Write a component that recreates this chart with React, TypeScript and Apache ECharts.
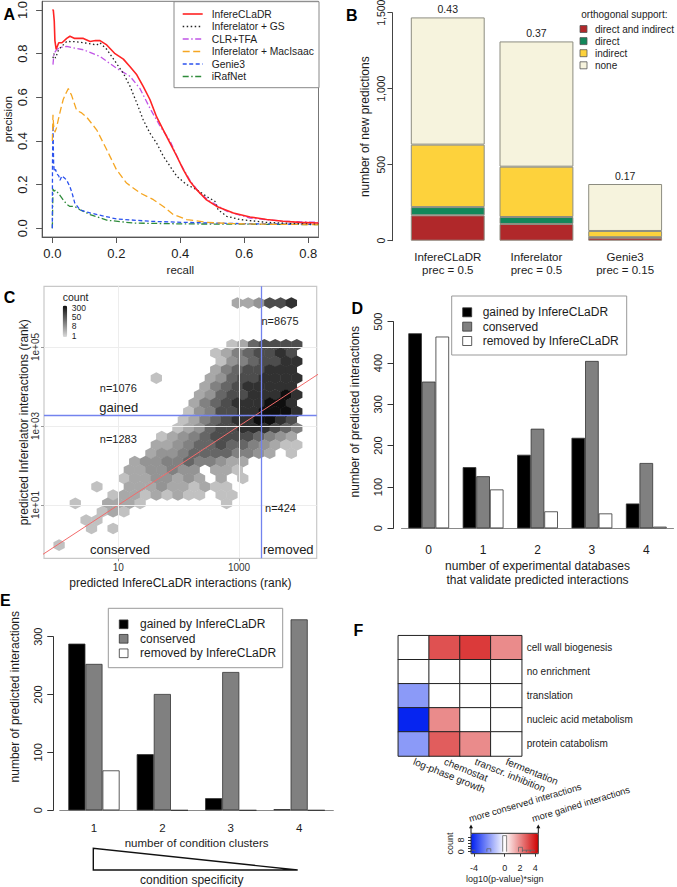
import React, { useEffect, useRef } from "react";
import * as echarts from "echarts";

const FONT = '"Liberation Sans", Arial, Helvetica, sans-serif';
const INK = "#1c1c1c";

// ================= Panel A: precision / recall =================
const A_RECALL_TICKS = [0, 0.2, 0.4, 0.6, 0.8];
const A_PRECISION_TICKS = [0, 0.2, 0.4, 0.6, 0.8, 1.0];
const A_METHODS = ["InfereCLaDR", "Inferelator + GS", "CLR+TFA", "Inferelator + MacIsaac", "Genie3", "iRafNet"];

const A_INFERECLADR_RECALL = [0, 0.003, 0.006, 0.008, 0.012, 0.02, 0.03, 0.045, 0.055, 0.07, 0.097, 0.118, 0.135, 0.149, 0.17, 0.196, 0.222, 0.243, 0.264, 0.284, 0.305, 0.326, 0.347, 0.368, 0.389, 0.409, 0.43, 0.451, 0.482, 0.514, 0.566, 0.618, 0.67, 0.722, 0.774, 0.832];
const A_INFERECLADR_PRECISION = [1.0, 1.0, 0.95, 0.86, 0.82, 0.85, 0.85, 0.87, 0.88, 0.87, 0.87, 0.856, 0.86, 0.86, 0.84, 0.8, 0.775, 0.74, 0.703, 0.65, 0.59, 0.51, 0.45, 0.39, 0.33, 0.27, 0.215, 0.177, 0.13, 0.1, 0.07, 0.052, 0.04, 0.032, 0.027, 0.024];

const A_GS_RECALL = [0.002, 0.005, 0.01, 0.02, 0.045, 0.07, 0.097, 0.12, 0.139, 0.149, 0.17, 0.196, 0.222, 0.243, 0.264, 0.284, 0.305, 0.326, 0.347, 0.368, 0.389, 0.42, 0.451, 0.482, 0.508, 0.518, 0.545, 0.586, 0.67, 0.75, 0.832];
const A_GS_PRECISION = [0.78, 0.8, 0.78, 0.82, 0.856, 0.855, 0.85, 0.845, 0.84, 0.85, 0.82, 0.765, 0.71, 0.65, 0.574, 0.497, 0.436, 0.39, 0.33, 0.284, 0.238, 0.2, 0.177, 0.146, 0.124, 0.085, 0.055, 0.04, 0.027, 0.022, 0.02];

const A_CLR_RECALL = [0.002, 0.005, 0.014, 0.03, 0.045, 0.07, 0.097, 0.149, 0.2, 0.243, 0.274, 0.305, 0.336, 0.368, 0.399, 0.43, 0.461, 0.493, 0.545, 0.618, 0.722, 0.832];
const A_CLR_PRECISION = [0.75, 0.8, 0.82, 0.83, 0.833, 0.825, 0.818, 0.787, 0.734, 0.696, 0.64, 0.55, 0.47, 0.4, 0.3, 0.22, 0.16, 0.124, 0.078, 0.047, 0.032, 0.027];

const A_MACISAAC_RECALL = [0, 0.002, 0.004, 0.008, 0.013, 0.019, 0.027, 0.034, 0.043, 0.05, 0.06, 0.076, 0.09, 0.107, 0.139, 0.17, 0.2, 0.232, 0.274, 0.316, 0.347, 0.378, 0.42, 0.482, 0.566, 0.7, 0.832];
const A_MACISAAC_PRECISION = [0.4, 0.52, 0.47, 0.44, 0.46, 0.5, 0.55, 0.59, 0.62, 0.64, 0.61, 0.54, 0.53, 0.51, 0.45, 0.36, 0.27, 0.207, 0.162, 0.131, 0.1, 0.063, 0.04, 0.027, 0.021, 0.018, 0.017];

const A_GENIE3_RECALL = [0, 0.0005, 0.002, 0.004, 0.006, 0.01, 0.014, 0.02, 0.024, 0.03, 0.038, 0.045, 0.055, 0.062, 0.07, 0.086, 0.118, 0.2, 0.305, 0.41, 0.6, 0.832];
const A_GENIE3_PRECISION = [0, 0.3, 0.47, 0.3, 0.26, 0.27, 0.25, 0.24, 0.22, 0.24, 0.23, 0.22, 0.19, 0.16, 0.116, 0.085, 0.07, 0.043, 0.032, 0.027, 0.021, 0.018];

const A_IRAFNET_RECALL = [0, 0.002, 0.005, 0.01, 0.019, 0.034, 0.045, 0.055, 0.07, 0.086, 0.118, 0.17, 0.253, 0.41, 0.832];
const A_IRAFNET_PRECISION = [0, 0.18, 0.17, 0.175, 0.16, 0.13, 0.11, 0.1, 0.1, 0.085, 0.063, 0.037, 0.024, 0.02, 0.017];

const A_CURVES = [
  [A_INFERECLADR_RECALL, A_INFERECLADR_PRECISION],
  [A_GS_RECALL, A_GS_PRECISION],
  [A_CLR_RECALL, A_CLR_PRECISION],
  [A_MACISAAC_RECALL, A_MACISAAC_PRECISION],
  [A_GENIE3_RECALL, A_GENIE3_PRECISION],
  [A_IRAFNET_RECALL, A_IRAFNET_PRECISION],
];
const A_COLORS = ["#ff2424", "#222222", "#c054e6", "#f5a623", "#2b52ee", "#2e8b3a"];
const A_DASHES: any[] = ["solid", [1.5, 2.5], [6, 2.5, 1.5, 2.5], [7, 3.5], [4, 2.5], [6, 2.5, 1.5, 2.5]];
const A_WIDTHS = [1.6, 1.3, 1.3, 1.3, 1.3, 1.3];

// ================= Panel B: stacked bars =================
const B_METHODS = ["InfereCLaDR\nprec = 0.5", "Inferelator\nprec = 0.5", "Genie3\nprec = 0.15"];
const B_SUPPORT = ["direct and indirect", "direct", "indirect", "none"];
const B_DIRECT_AND_INDIRECT = [167, 110, 20];
const B_DIRECT = [54, 46, 3];
const B_INDIRECT = [411, 331, 41];
const B_NONE = [837, 824, 309];
const B_SUPPORTED_FRACTION = ["0.43", "0.37", "0.17"];
const B_TICKS_INTERVAL = 500;
const B_COLORS = ["#b0282a", "#12875a", "#fdd23c", "#f6f3dd"];

// ================= Panel C: hexbin (log10 ranks) =================
const C_X_TICKS = [1, 3];
const C_X_TICK_LABELS = ["10", "1000"];
const C_Y_TICKS = [1, 3, 5];
const C_Y_TICK_LABELS = ["1e+01", "1e+03", "1e+05"];
const C_RANK_CUTOFF_X = 3.365;
const C_RANK_CUTOFF_Y = 3.28;
const C_IDENTITY_LINE = [[-1, -1], [5, 5]];
// hex lattice (log10 units)
const HEX_X0 = -0.16;
const HEX_DX = 0.179;
const HEX_Y0 = 5.058;
const HEX_DY = 0.2114;
const HEX_FIRST_ROW = -5;
// count level per hex cell (0 = empty)
const HEX_LEVEL_COUNTS = [0, 1, 2, 4, 7, 12, 25, 50, 110, 280];
const HEX_ROWS = [
  "000000000000000000334778",
  "000000000000000000000000",
  "000000000000000000000000",
  "000000000000000000000000",
  "000000000000000000000000",
  "000000000000000002367777",
  "000000000000000023567787",
  "000000000000000024567788",
  "000000000000000035677888",
  "000000000020000346778888",
  "000000000000000356788888",
  "000000000000003467788898",
  "000000000000003567888998",
  "000000000000024577889998",
  "000000000000023567889987",
  "000000000000234677888765",
  "000000000002345677776543",
  "000000000033456676654322",
  "000000000034456666554302",
  "000000003445565543300000",
  "000000003344544033200000",
  "000000023344343030200000",
  "000002003334332322000000",
  "000000233232322022000000",
  "000200333200000002000000",
  "000002320000000000000000",
  "000022000000000000000000",
  "000020200000000000000000",
  "000000000000000000000000",
  "020000000000000000000000",
];
const C_COUNT_LEGEND = ["300", "50", "8", "1"];

// ================= Panel D =================
const D_CATEGORIES = ["0", "1", "2", "3", "4"];
const D_GAINED = [472, 148, 178, 219, 60];
const D_CONSERVED = [355, 126, 241, 405, 158];
const D_REMOVED = [464, 94, 41, 36, 4];

// ================= Panel E =================
const E_CATEGORIES = ["1", "2", "3", "4"];
const E_GAINED = [288, 97, 21, 2];
const E_CONSERVED = [253, 201, 239, 330];
const E_REMOVED = [69, 0, 0, 0];

const DE_NAMES = ["gained by InfereCLaDR", "conserved", "removed by InfereCLaDR"];
const DE_COLORS = ["#000000", "#808080", "#ffffff"];

// ================= Panel F: heatmap =================
const F_CONDITIONS = ["log-phase growth", "chemostat", "transcr. inhibition", "fermentation"];
const F_CATEGORIES = ["cell wall biogenesis", "no enrichment", "translation", "nucleic acid metabolism", "protein catabolism"];
const F_VALUES = [
  [0, 3.0, 3.4, 2.0],
  [0, 0, 0, 0],
  [-2.0, 0, 0, 0],
  [-4.3, 2.0, 0, 0],
  [-2.0, 2.8, 2.0, 0],
];
const F_KEY_TICKS = [-4, 0, 2, 4];
const F_KEY_COUNT_TICKS = [0, 8];
const F_KEY_MIN = -4.4;
const F_KEY_MAX = 4.4;
const F_HIST_BINS = 17;

function txt(text: string, x: number, y: number, size: number, o: any = {}) {
  const align = o.align || "left";
  const valign = o.valign || "middle";
  return {
    type: "text",
    x,
    y,
    rotation: o.rotation || 0,
    silent: true,
    z: 100,
    style: {
      text,
      fill: o.color || INK,
      fontSize: size,
      fontFamily: FONT,
      fontWeight: o.weight || "normal",
      align,
      verticalAlign: valign,
      textAlign: align,
      textVerticalAlign: valign,
    },
  };
}

function buildOption() {
  const baseName = (size: number) => ({ fontSize: size, color: INK, fontFamily: FONT });

  const grids = [
    { left: 42.1, top: 1.3, width: 276.4, height: 235.7, show: true, borderColor: "#777", borderWidth: 1 },
    { left: 403.4, top: 12.7, width: 266.1, height: 228 },
    { left: 44, top: 286.3, width: 272.7, height: 272, show: true, borderColor: "#c8c8c8", borderWidth: 1.2 },
    { left: 401.5, top: 321.7, width: 272, height: 206.6 },
    { left: 59.75, top: 636.7, width: 273.6, height: 173.6 },
    { left: 398.3, top: 635.7, width: 123.4, height: 120.3 },
    { left: 471, top: 833.3, width: 67.3, height: 20.4 },
  ].map((g) => ({ ...g, containLabel: false, outerBoundsMode: "none" }));

  const noLine = { show: false };
  const xAxis: any[] = [
    {
      gridIndex: 0, type: "value", min: -0.032, max: 0.832,
      axisLine: { show: true, onZero: false, lineStyle: { color: "#555" } },
      axisTick: { show: true, length: 6, customValues: A_RECALL_TICKS, lineStyle: { color: "#555" } },
      axisLabel: { customValues: A_RECALL_TICKS, formatter: (v: number) => v.toFixed(1), fontSize: 13, margin: 10, color: INK, fontFamily: FONT },
      splitLine: noLine,
      name: "recall", nameLocation: "middle", nameGap: 27, nameMoveOverlap: false, nameTextStyle: baseName(11.5),
    },
    {
      gridIndex: 1, type: "category", data: B_METHODS,
      axisLine: noLine, axisTick: noLine,
      axisLabel: { interval: 0, fontSize: 11.5, lineHeight: 13, margin: 10, color: INK, fontFamily: FONT },
    },
    {
      gridIndex: 2, type: "value", min: -0.231, max: 4.287,
      axisLine: { show: false, onZero: false },
      axisTick: { show: true, length: 3, customValues: C_X_TICKS, lineStyle: { color: "#999" } },
      axisLabel: { customValues: C_X_TICKS, formatter: (v: number) => C_X_TICK_LABELS[C_X_TICKS.indexOf(Math.round(v))], fontSize: 10, margin: 4, color: "#333", fontFamily: FONT },
      splitLine: noLine,
      name: "predicted InfereCLaDR interactions (rank)", nameLocation: "middle", nameGap: 19, nameMoveOverlap: false, nameTextStyle: baseName(12),
    },
    {
      gridIndex: 3, type: "category", data: D_CATEGORIES,
      axisLine: { show: true, onZero: false, lineStyle: { color: "#8a8a8a" } }, axisTick: noLine,
      axisLabel: { interval: 0, fontSize: 12, margin: 16, color: INK, fontFamily: FONT },
      name: "number of experimental databases\nthat validate predicted interactions", nameLocation: "middle", nameGap: 31, nameMoveOverlap: false,
      nameTextStyle: { ...baseName(12), lineHeight: 14 },
    },
    {
      gridIndex: 4, type: "category", data: E_CATEGORIES,
      axisLine: { show: true, onZero: false, lineStyle: { color: "#8a8a8a" } }, axisTick: noLine,
      axisLabel: { interval: 0, fontSize: 11.5, margin: 12, color: INK, fontFamily: FONT },
      name: "number of condition clusters", nameLocation: "middle", nameGap: 27, nameMoveOverlap: false, nameTextStyle: baseName(11.5),
    },
    {
      gridIndex: 5, type: "category", data: F_CONDITIONS,
      axisLine: noLine, axisTick: noLine,
      axisLabel: { interval: 0, rotate: -22, margin: 5, fontSize: 10, color: INK, fontFamily: FONT },
    },
    {
      gridIndex: 6, type: "value", min: F_KEY_MIN, max: F_KEY_MAX,
      axisLine: { show: false, onZero: false },
      axisTick: { show: true, length: 3, customValues: F_KEY_TICKS, lineStyle: { color: "#333" } },
      axisLabel: { customValues: F_KEY_TICKS, fontSize: 9, margin: 10, color: INK, fontFamily: FONT },
      splitLine: noLine,
      name: "log10(p-value)*sign", nameLocation: "middle", nameGap: 21, nameMoveOverlap: false, nameTextStyle: baseName(9),
    },
  ];

  const yAxis: any[] = [
    {
      gridIndex: 0, type: "value", min: -0.04, max: 1.04,
      axisLine: { show: true, onZero: false, lineStyle: { color: "#555" } },
      axisTick: { show: true, length: 6, customValues: A_PRECISION_TICKS, lineStyle: { color: "#555" } },
      axisLabel: { customValues: A_PRECISION_TICKS, formatter: (v: number) => v.toFixed(1), rotate: 90, fontSize: 13, margin: 13, color: INK, fontFamily: FONT },
      splitLine: noLine,
      name: "precision", nameLocation: "middle", nameGap: 28, nameMoveOverlap: false, nameTextStyle: baseName(11.5),
    },
    {
      gridIndex: 1, type: "value", min: 0, max: 1500, interval: B_TICKS_INTERVAL, offset: 11,
      axisLine: { show: true, onZero: false, lineStyle: { color: "#444" } },
      axisTick: { show: true, length: 5, lineStyle: { color: "#444" } },
      axisLabel: { rotate: 90, fontSize: 10.5, margin: 6, color: INK, fontFamily: FONT },
      splitLine: noLine,
      name: "number of new predictions", nameLocation: "middle", nameGap: 21, nameMoveOverlap: false, nameTextStyle: baseName(12),
    },
    {
      gridIndex: 2, type: "value", min: -0.349, max: 6.537,
      axisLine: { show: false, onZero: false },
      axisTick: { show: true, length: 3, customValues: C_Y_TICKS, lineStyle: { color: "#999" } },
      axisLabel: { customValues: C_Y_TICKS, formatter: (v: number) => C_Y_TICK_LABELS[C_Y_TICKS.indexOf(Math.round(v))], rotate: 90, fontSize: 10, margin: 4, color: "#333", fontFamily: FONT },
      splitLine: noLine,
      name: "predicted Inferelator interactions (rank)", nameLocation: "middle", nameGap: 14, nameMoveOverlap: false, nameTextStyle: baseName(12),
    },
    {
      gridIndex: 3, type: "value", min: 0, max: 500, interval: 100, offset: 8,
      axisLine: { show: true, onZero: false, lineStyle: { color: "#333" } },
      axisTick: { show: true, length: 6, lineStyle: { color: "#333" } },
      axisLabel: { rotate: 90, fontSize: 11, margin: 10, color: INK, fontFamily: FONT },
      splitLine: noLine,
    },
    {
      gridIndex: 4, type: "value", min: 0, max: 300, interval: 100, offset: 6.5,
      axisLine: { show: true, onZero: false, lineStyle: { color: "#333" } },
      axisTick: { show: true, length: 6, lineStyle: { color: "#333" } },
      axisLabel: { rotate: 90, fontSize: 11, margin: 10, color: INK, fontFamily: FONT },
      splitLine: noLine,
    },
    {
      gridIndex: 5, type: "category", data: F_CATEGORIES, inverse: true, position: "right",
      axisLine: noLine, axisTick: noLine,
      axisLabel: { interval: 0, margin: 5, fontSize: 10, color: INK, fontFamily: FONT },
    },
    {
      gridIndex: 6, type: "value", min: -1.4, max: 12.6,
      axisLine: { show: false, onZero: false },
      axisTick: { show: true, length: 3, customValues: [0, 2, 4, 6, 8, 10], lineStyle: { color: "#333" } },
      axisLabel: { customValues: F_KEY_COUNT_TICKS, rotate: 90, fontSize: 9, margin: 6, color: INK, fontFamily: FONT },
      splitLine: noLine,
      name: "count", nameLocation: "middle", nameGap: 17, nameMoveOverlap: false, nameTextStyle: baseName(9),
    },
  ];

  const series: any[] = [];

  // ---- A ----
  A_CURVES.forEach(([rec, prec], i) => {
    series.push({
      type: "line", name: A_METHODS[i], xAxisIndex: 0, yAxisIndex: 0,
      data: rec.map((r, k) => [r, prec[k]]),
      symbol: "none", showSymbol: false, silent: true, clip: true,
      lineStyle: { color: A_COLORS[i], width: A_WIDTHS[i], type: A_DASHES[i], cap: "butt" },
      z: 10 - i,
    });
  });

  // ---- B ----
  const bStacks = [B_DIRECT_AND_INDIRECT, B_DIRECT, B_INDIRECT, B_NONE];
  bStacks.forEach((vals, i) => {
    series.push({
      type: "bar", name: B_SUPPORT[i], xAxisIndex: 1, yAxisIndex: 1, stack: "B",
      data: vals, barWidth: "83.3%", silent: true,
      itemStyle: { color: B_COLORS[i], borderColor: "#8c8c80", borderWidth: 1 },
      label: i === bStacks.length - 1
        ? { show: true, position: "top", distance: 3, fontSize: 10.5, color: INK, fontFamily: FONT, formatter: (p: any) => B_SUPPORTED_FRACTION[p.dataIndex] }
        : { show: false },
    });
  });

  // ---- C ----
  series.push({
    type: "line", xAxisIndex: 2, yAxisIndex: 2, data: [], silent: true, z: 1,
    markLine: {
      silent: true, symbol: "none", label: { show: false }, animation: false,
      lineStyle: { color: "#ededed", width: 1, type: "solid" },
      data: [...C_X_TICKS.map((v) => ({ xAxis: v })), ...C_Y_TICKS.map((v) => ({ yAxis: v }))],
    },
  });
  const hexData: number[][] = [];
  HEX_ROWS.forEach((row, i) => {
    const r = HEX_FIRST_ROW + i;
    const odd = ((r % 2) + 2) % 2 === 1;
    for (let c = 0; c < row.length; c++) {
      const level = Number(row[c]);
      if (level > 0) {
        hexData.push([HEX_X0 + c * HEX_DX - (odd ? HEX_DX / 2 : 0), HEX_Y0 - r * HEX_DY, Math.log10(HEX_LEVEL_COUNTS[level])]);
      }
    }
  });
  const hexIndex = series.length;
  series.push({
    type: "scatter", xAxisIndex: 2, yAxisIndex: 2, data: hexData, silent: true, z: 2,
    symbol: "path://M0,-1L0.866,-0.5L0.866,0.5L0,1L-0.866,0.5L-0.866,-0.5Z",
    symbolSize: [11.3, 11.6],
    itemStyle: { opacity: 1, borderWidth: 0 },
    emphasis: { disabled: true },
  });
  series.push({
    type: "line", xAxisIndex: 2, yAxisIndex: 2, data: C_IDENTITY_LINE, symbol: "none", silent: true, clip: true, z: 3,
    lineStyle: { color: "#f26a6a", width: 1 },
    markLine: {
      silent: true, symbol: "none", label: { show: false }, animation: false,
      lineStyle: { color: "#7383ee", width: 1.3, type: "solid" },
      data: [{ xAxis: C_RANK_CUTOFF_X }, { yAxis: C_RANK_CUTOFF_Y }],
    },
  });

  // ---- D ----
  [D_GAINED, D_CONSERVED, D_REMOVED].forEach((vals, i) => {
    series.push({
      type: "bar", name: DE_NAMES[i], xAxisIndex: 3, yAxisIndex: 3, data: vals, silent: true,
      barGap: "0%", barCategoryGap: "25%",
      itemStyle: { color: DE_COLORS[i], borderColor: "#333", borderWidth: 0.8 },
    });
  });

  // ---- E ----
  [E_GAINED, E_CONSERVED, E_REMOVED].forEach((vals, i) => {
    series.push({
      type: "bar", name: DE_NAMES[i], xAxisIndex: 4, yAxisIndex: 4, data: vals, silent: true, clip: false,
      barGap: "0%", barCategoryGap: "25%",
      itemStyle: { color: DE_COLORS[i], borderColor: "#333", borderWidth: 0.8 },
    });
  });

  // ---- F ----
  const heatIndex = series.length;
  series.push({
    type: "heatmap", xAxisIndex: 5, yAxisIndex: 5, silent: true,
    data: F_VALUES.flatMap((row, r) => row.map((v, c) => [c, r, v])),
    itemStyle: { borderColor: "#222", borderWidth: 1 },
    emphasis: { disabled: true },
  });
  const flat = F_VALUES.flat();
  const binW = (F_KEY_MAX - F_KEY_MIN) / F_HIST_BINS;
  const histLines: any[] = [];
  for (let b = 0; b < F_HIST_BINS; b++) {
    const lo = F_KEY_MIN + b * binW;
    const hi = lo + binW;
    const n = flat.filter((v) => v >= lo && v < hi).length;
    if (n > 0) histLines.push({ coords: [[lo, 0], [lo, n], [hi, n], [hi, 0]] });
  }
  series.push({
    type: "lines", coordinateSystem: "cartesian2d", xAxisIndex: 6, yAxisIndex: 6, polyline: true, silent: true, z: 5,
    data: histLines, lineStyle: { color: "#666", width: 0.8, opacity: 1 },
  });

  const visualMap: any[] = [
    {
      type: "continuous", seriesIndex: hexIndex, dimension: 2, min: 0, max: Math.log10(300),
      inRange: { color: ["#dadada", "#0d0d0d"] },
      orient: "vertical", left: 62.7, top: 305.5, itemWidth: 4.5, itemHeight: 31.5, padding: 0,
      calculable: false, hoverLink: false, text: null, showLabel: false,
    },
    {
      type: "continuous", seriesIndex: heatIndex, dimension: 2, min: F_KEY_MIN, max: F_KEY_MAX,
      inRange: { color: ["#0020f0", "#ffffff", "#d00000"] },
      orient: "horizontal", left: 471, top: 833.3, itemWidth: 20.4, itemHeight: 67.3, padding: 0,
      calculable: false, hoverLink: false, text: null, z: 1,
    },
  ];

  // ---- graphics: panel letters, legends, annotations ----
  const g: any[] = [];
  const letters: [string, number, number][] = [["A", 9.2, 14.2], ["B", 351.7, 15], ["C", 9.5, 297], ["D", 357.3, 308], ["E", 5.3, 600.3], ["F", 358.3, 630.3]];
  letters.forEach(([t, x, y]) => g.push(txt(t, x, y, 16, { weight: "bold", align: "center", color: "#000" })));

  // A legend
  g.push({ type: "rect", z: 90, silent: true, shape: { x: 174, y: 1.7, width: 145, height: 86 }, style: { fill: "#fff", stroke: "#888", lineWidth: 1 } });
  A_METHODS.forEach((name, i) => {
    const y = 14 + 12.5 * i;
    g.push({ type: "line", z: 95, silent: true, shape: { x1: 182.7, y1: y, x2: 202.7, y2: y }, style: { stroke: A_COLORS[i], lineWidth: A_WIDTHS[i], lineDash: A_DASHES[i] === "solid" ? null : A_DASHES[i] } });
    g.push(txt(name, 211.7, y, 10.3));
  });

  // B legend
  g.push(txt("orthogonal support:", 581.3, 14.7, 10));
  B_SUPPORT.forEach((name, i) => {
    const y = 29 + 12.1 * i;
    g.push({ type: "rect", z: 95, silent: true, shape: { x: 580, y: y - 3.5, width: 7, height: 7 }, style: { fill: B_COLORS[i], stroke: "#555", lineWidth: 0.8 } });
    g.push(txt(name, 595, y, 10));
  });

  // C legend + annotations
  g.push(txt("count", 62.7, 297, 10.5));
  const cLegendY = [308, 316.8, 325.8, 335.5];
  C_COUNT_LEGEND.forEach((t, i) => g.push(txt(t, 71.7, cLegendY[i], 8.5)));
  g.push(txt("n=8675", 280, 321, 11, { align: "center" }));
  g.push(txt("n=1076", 118.3, 387.7, 11, { align: "center" }));
  g.push(txt("gained", 118.7, 407.7, 13, { align: "center" }));
  g.push(txt("n=1283", 118.3, 439.3, 11, { align: "center" }));
  g.push(txt("n=424", 280.5, 507.7, 11, { align: "center" }));
  g.push(txt("conserved", 120, 549.3, 13, { align: "center" }));
  g.push(txt("removed", 288.3, 549.3, 13, { align: "center" }));

  // D legend
  g.push({ type: "rect", z: 90, silent: true, shape: { x: 451.7, y: 296, width: 175, height: 59 }, style: { fill: "#fff", stroke: "#999", lineWidth: 1 } });
  DE_NAMES.forEach((name, i) => {
    const y = 312.3 + 14.35 * i;
    g.push({ type: "rect", z: 95, silent: true, shape: { x: 462.7, y: y - 4.5, width: 9, height: 9 }, style: { fill: DE_COLORS[i], stroke: "#333", lineWidth: 0.8 } });
    g.push(txt(name, 482.7, y, 12));
  });
  g.push(txt("number of predicted interactions", 355, 411.7, 12, { align: "center", rotation: Math.PI / 2 }));

  // E legend
  g.push({ type: "rect", z: 90, silent: true, shape: { x: 108.3, y: 608.3, width: 174.4, height: 59.4 }, style: { fill: "#fff", stroke: "#999", lineWidth: 1 } });
  DE_NAMES.forEach((name, i) => {
    const y = 624.3 + 14.5 * i;
    g.push({ type: "rect", z: 95, silent: true, shape: { x: 119.3, y: y - 4.35, width: 8.7, height: 8.7 }, style: { fill: DE_COLORS[i], stroke: "#333", lineWidth: 0.8 } });
    g.push(txt(name, 140, y, 12));
  });
  g.push(txt("number of predicted interactions", 15, 696.7, 12, { align: "center", rotation: Math.PI / 2 }));
  g.push({ type: "polygon", z: 90, silent: true, shape: { points: [[93.3, 848.3], [93.3, 870], [297.7, 870]] }, style: { fill: "#fff", stroke: "#111", lineWidth: 1.4 } });
  g.push(txt("condition specificity", 191.7, 879.5, 12, { align: "center" }));

  // F key decorations
  g.push({ type: "rect", z: 60, silent: true, shape: { x: 471, y: 833.3, width: 67.3, height: 20.4 }, style: { fill: "none", stroke: "#333", lineWidth: 1 } });
  [471, 538.3].forEach((x) => {
    g.push({ type: "line", z: 95, silent: true, shape: { x1: x, y1: 833.3, x2: x, y2: 827.5 }, style: { stroke: "#111", lineWidth: 1 } });
    g.push({ type: "polygon", z: 95, silent: true, shape: { points: [[x - 2, 828.3], [x + 2, 828.3], [x, 824.5]] }, style: { fill: "#111" } });
  });
  g.push(txt("more conserved interactions", 470.5, 823.5, 9.3, { valign: "bottom", rotation: 0.283 }));
  g.push(txt("more gained interactions", 533.5, 823.5, 9.3, { valign: "bottom", rotation: 0.295 }));

  return {
    animation: false,
    backgroundColor: "#ffffff",
    textStyle: { fontFamily: FONT },
    grid: grids,
    xAxis,
    yAxis,
    visualMap,
    series,
    graphic: { elements: g },
  };
}

export default function App() {
  const ref = useRef<HTMLDivElement>(null);
  useEffect(() => {
    const chart = echarts.init(ref.current as HTMLDivElement, undefined, { renderer: "svg" });
    chart.setOption(buildOption() as any);
    return () => chart.dispose();
  }, []);
  return <div ref={ref} style={{ position: "absolute", left: 0, top: 0, width: 677, height: 887, background: "#fff" }} />;
}
